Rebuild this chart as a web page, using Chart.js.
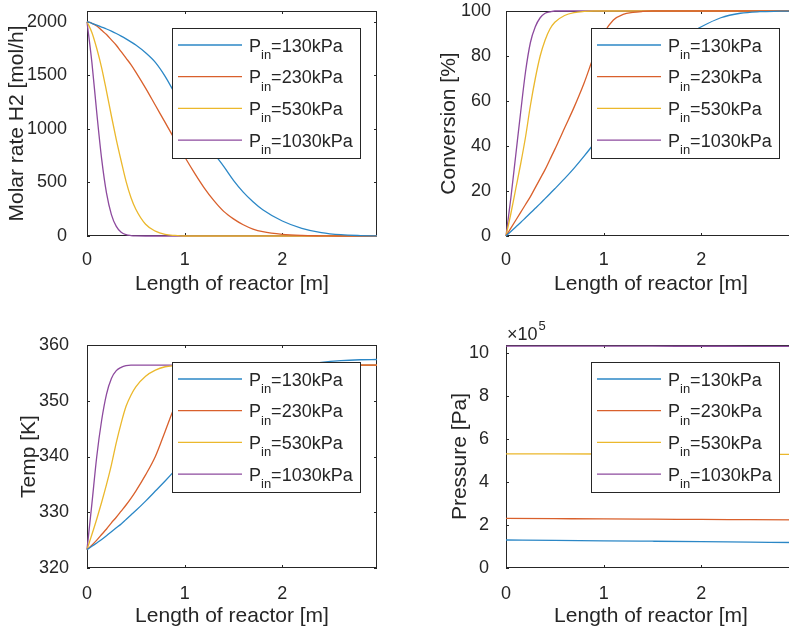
<!DOCTYPE html>
<html>
<head>
<meta charset="utf-8">
<title>Reactor profiles</title>
<script src="https://cdn.jsdelivr.net/npm/chart.js@4.4.1/dist/chart.umd.min.js"></script>
<style>
  html, body { margin: 0; padding: 0; background: #fff; overflow: hidden; }
  #fig { position: relative; width: 789px; height: 632px; overflow: hidden; }
  #fig canvas { position: absolute; }
</style>
</head>
<body>
<div id="fig">
  <canvas id="cMolar" width="395" height="316" style="left:0;top:0"></canvas>
  <canvas id="cConv" width="410" height="316" style="left:395px;top:0"></canvas>
  <canvas id="cTemp" width="395" height="316" style="left:0;top:316px"></canvas>
  <canvas id="cPres" width="410" height="316" style="left:395px;top:316px"></canvas>
</div>
<script>
// --- data ---
const inletKPa = [130, 230, 530, 1030];
const seriesColors = ['#2b87c6', '#d9602c', '#ebb82c', '#8d4a9e'];

// tick values
const lengthTicks = [0, 1, 2];
const molarTicks = [0, 500, 1000, 1500, 2000];
const convTicks = [0, 20, 40, 60, 80, 100];
const tempTicks = [320, 330, 340, 350, 360];
const presTicks = [0, 200000, 400000, 600000, 800000, 1000000];

// reactor length [m] used by molar rate / conversion / temperature
const lengthM = [0, 0.05, 0.1, 0.15, 0.2, 0.25, 0.3, 0.35, 0.4, 0.45, 0.5, 0.6, 0.7, 0.8, 0.9,
                 1.0, 1.1, 1.2, 1.3, 1.4, 1.5, 1.6, 1.7, 1.8, 2.0, 2.2, 2.4, 2.6, 2.8, 2.97];

// molar rate H2 [mol/h]
const molar130  = [2000, 1985, 1968, 1950, 1932, 1912, 1890, 1866, 1840, 1812, 1782, 1710, 1620, 1490, 1330,
                   1170, 1030, 895, 770, 650, 520, 410, 320, 245, 140, 72, 32, 12, 4, 1];
const molar230  = [2000, 1985, 1960, 1920, 1880, 1830, 1780, 1720, 1660, 1600, 1530, 1380, 1220, 1060, 900,
                   740, 590, 450, 330, 230, 160, 105, 65, 40, 15, 5, 2, 0, 0, 0];
const molar530  = [2000, 1900, 1750, 1570, 1350, 1120, 900, 700, 510, 360, 250, 110, 45, 15, 5,
                   0, 0, 0, 0, 0, 0, 0, 0, 0, 0, 0, 0, 0, 0, 0];
const molar1030 = [2000, 1620, 1150, 720, 400, 200, 90, 35, 12, 4, 1, 0, 0, 0, 0,
                   0, 0, 0, 0, 0, 0, 0, 0, 0, 0, 0, 0, 0, 0, 0];

// conversion [%]
const conv130  = [0, 2, 4, 6, 8.1, 10.2, 12.3, 14.4, 16.6, 18.8, 21, 25.5, 30.3, 35.5, 41,
                  47, 53, 59, 64.5, 70, 75, 80, 84.5, 88, 93, 97, 99, 99.7, 99.9, 100];
const conv230  = [0, 3.5, 7, 10.5, 14, 17.5, 21.5, 25.5, 29.5, 34, 38.5, 48, 57.5, 68, 80,
                  90, 96, 98.5, 99.4, 99.8, 100, 100, 100, 100, 100, 100, 100, 100, 100, 100];
const conv530  = [0, 10, 21, 32, 44, 58, 70, 80, 87, 92, 95, 98, 99.3, 99.8, 100,
                  100, 100, 100, 100, 100, 100, 100, 100, 100, 100, 100, 100, 100, 100, 100];
const conv1030 = [0, 17, 36, 55, 73, 86, 93, 97, 99, 99.6, 100, 100, 100, 100, 100,
                  100, 100, 100, 100, 100, 100, 100, 100, 100, 100, 100, 100, 100, 100, 100];

// temperature [K]
const temp130  = [323.3, 323.9, 324.5, 325.1, 325.8, 326.5, 327.2, 327.9, 328.7, 329.5, 330.3, 332, 333.8, 335.6, 337.5,
                  339.5, 341.7, 344, 346.2, 348.3, 350.2, 351.8, 353, 354, 355.5, 356.4, 356.9, 357.2, 357.35, 357.4];
const temp230  = [323.3, 324.1, 325, 326, 327, 328.1, 329.1, 330.2, 331.3, 332.5, 333.8, 336.7, 340, 344.5, 349,
                  352.3, 354.5, 355.6, 356.1, 356.3, 356.4, 356.4, 356.4, 356.4, 356.4, 356.4, 356.4, 356.4, 356.4, 356.4];
const temp530  = [323.3, 326, 328.8, 331.8, 335, 338.5, 342.5, 346, 349, 351, 352.5, 354.4, 355.5, 356.1, 356.3,
                  356.4, 356.4, 356.4, 356.4, 356.4, 356.4, 356.4, 356.4, 356.4, 356.4, 356.4, 356.4, 356.4, 356.4, 356.4];
const temp1030 = [323.3, 331.5, 340, 346.5, 351.2, 354, 355.4, 356, 356.3, 356.4, 356.4, 356.4, 356.4, 356.4, 356.4,
                  356.4, 356.4, 356.4, 356.4, 356.4, 356.4, 356.4, 356.4, 356.4, 356.4, 356.4, 356.4, 356.4, 356.4, 356.4];

// pressure [Pa]
const presLengthM = [0, 0.5, 1, 1.5, 2, 2.5, 2.97];
const pres130  = [130000, 128200, 126300, 124300, 122300, 120200, 118300];
const pres230  = [230000, 228900, 227800, 226600, 225400, 224200, 223100];
const pres530  = [530000, 529500, 529000, 528500, 528000, 527500, 527000];
const pres1030 = [1030000, 1029800, 1029600, 1029400, 1029200, 1029000, 1028800];

const FONT = '"Liberation Sans", Arial, Helvetica, sans-serif';
const INK = '#262626';

// MATLAB-like box, inward ticks, legend with subscript, x10^n label
const matlabAxes = {
    id: 'matlabAxes',
    beforeDatasetsDraw(chart) {
        const { ctx, chartArea: a, scales } = chart;
        ctx.save();
        ctx.strokeStyle = INK;
        ctx.lineWidth = 1;
        ctx.strokeRect(a.left + 0.5, a.top + 0.5, a.right - a.left - 1, a.bottom - a.top - 1);
        ctx.beginPath();
        const tl = 3;
        scales.x.ticks.forEach(t => {
            const px = Math.round(scales.x.getPixelForValue(t.value)) + 0.5;
            ctx.moveTo(px, a.bottom); ctx.lineTo(px, a.bottom - tl);
            ctx.moveTo(px, a.top); ctx.lineTo(px, a.top + tl);
        });
        scales.y.ticks.forEach(t => {
            const py = Math.round(scales.y.getPixelForValue(t.value)) + 0.5;
            ctx.moveTo(a.left, py); ctx.lineTo(a.left + tl, py);
            ctx.moveTo(a.right, py); ctx.lineTo(a.right - tl, py);
        });
        ctx.stroke();
        ctx.restore();
    },
    afterDraw(chart, args, opts) {
        const { ctx, chartArea: a } = chart;
        ctx.save();
        // legend
        const x0 = Math.round(a.left + 85), y0 = Math.round(a.top + 17), w = 188, h = 130;
        ctx.fillStyle = '#fff';
        ctx.fillRect(x0, y0, w, h);
        ctx.strokeStyle = INK;
        ctx.lineWidth = 1;
        ctx.strokeRect(x0 + 0.5, y0 + 0.5, w, h);
        chart.data.datasets.forEach((ds, i) => {
            const cy = y0 + 17 + i * 31.7;
            ctx.strokeStyle = ds.borderColor;
            ctx.lineWidth = 1.3;
            ctx.beginPath();
            ctx.moveTo(x0 + 6, cy); ctx.lineTo(x0 + 70, cy);
            ctx.stroke();
            ctx.fillStyle = INK;
            ctx.textBaseline = 'alphabetic';
            ctx.textAlign = 'left';
            let tx = x0 + 77;
            ctx.font = '18px ' + FONT;
            ctx.fillText('P', tx, cy + 6.5);
            tx += ctx.measureText('P').width;
            ctx.font = '13px ' + FONT;
            ctx.fillText('in', tx, cy + 14);
            tx += ctx.measureText('in').width;
            ctx.font = '18px ' + FONT;
            ctx.fillText('=' + inletKPa[i] + 'kPa', tx, cy + 6.5);
        });
        // exponent label
        if (opts && opts.exponent) {
            ctx.fillStyle = INK;
            ctx.textBaseline = 'middle';
            ctx.textAlign = 'left';
            ctx.font = '18px ' + FONT;
            const ex = a.left + 1;
            ctx.fillText('\u00d710', ex, a.top - 10);
            const ew = ctx.measureText('\u00d710').width;
            ctx.font = '13px ' + FONT;
            ctx.fillText(String(opts.exponent), ex + ew + 1, a.top - 19);
        }
        ctx.restore();
    }
};

function makeChart(id, xs, ys, cfg) {
    const datasets = ys.map((arr, i) => ({
        label: 'Pin=' + inletKPa[i] + 'kPa',
        data: arr.map((v, j) => ({ x: xs[j], y: v })),
        borderColor: seriesColors[i],
        borderWidth: 1.3,
        pointRadius: 0,
        cubicInterpolationMode: 'monotone',
        clip: false
    }));
    return new Chart(document.getElementById(id), {
        type: 'line',
        data: { datasets },
        plugins: [matlabAxes],
        options: {
            responsive: false,
            animation: false,
            layout: { padding: { left: 0, top: cfg.padTop, right: cfg.padRight, bottom: 0 } },
            plugins: {
                legend: { display: false },
                tooltip: { enabled: false },
                matlabAxes: { exponent: cfg.exponent || 0 }
            },
            scales: {
                x: {
                    type: 'linear',
                    min: 0,
                    max: 2.97,
                    grid: { display: false },
                    border: { display: false },
                    afterBuildTicks: s => { s.ticks = lengthTicks.map(v => ({ value: v })); },
                    ticks: {
                        padding: cfg.xTickPad,
                        color: INK,
                        font: { family: FONT, size: 18 },
                        maxRotation: 0
                    },
                    title: {
                        display: true,
                        text: 'Length of reactor [m]',
                        color: INK,
                        font: { family: FONT, size: 21 },
                        padding: { top: 0, bottom: cfg.xTitlePad }
                    },
                    afterFit: s => {
                        s.height = cfg.xHeight;
                        s.paddingLeft = 0; s.paddingRight = 0;
                    }
                },
                y: {
                    type: 'linear',
                    min: cfg.yMin,
                    max: cfg.yMax,
                    grid: { display: false },
                    border: { display: false },
                    afterBuildTicks: s => { s.ticks = cfg.yTicks.map(v => ({ value: v })); },
                    ticks: {
                        padding: cfg.yTickPad,
                        color: INK,
                        font: { family: FONT, size: 18 },
                        callback: cfg.yFormat || (v => v)
                    },
                    title: {
                        display: true,
                        text: cfg.yTitle,
                        color: INK,
                        font: { family: FONT, size: 21 },
                        padding: { top: cfg.yTitlePad, bottom: 0 }
                    },
                    afterFit: s => {
                        s.width = cfg.yWidth;
                        s.paddingTop = 0; s.paddingBottom = 0;
                    }
                }
            }
        }
    });
}

makeChart('cMolar', lengthM, [molar130, molar230, molar530, molar1030], {
    padTop: 11, padRight: 18, yWidth: 87, xHeight: 80,
    yMin: 0, yMax: 2100, yTicks: molarTicks, yTitle: 'Molar rate H2 [mol/h]',
    yTitlePad: 5, xTitlePad: 19, xTickPad: 5, yTickPad: 12
});

makeChart('cConv', lengthM, [conv130, conv230, conv530, conv1030], {
    padTop: 11, padRight: 9, yWidth: 111, xHeight: 80,
    yMin: 0, yMax: 100, yTicks: convTicks, yTitle: 'Conversion [%]',
    yTitlePad: 42, xTitlePad: 19, xTickPad: 5, yTickPad: 7
});

makeChart('cTemp', lengthM, [temp130, temp230, temp530, temp1030], {
    padTop: 29, padRight: 18, yWidth: 87, xHeight: 64,
    yMin: 320, yMax: 360, yTicks: tempTicks, yTitle: 'Temp [K]',
    yTitlePad: 17, xTitlePad: 3, xTickPad: 7, yTickPad: 10
});

makeChart('cPres', presLengthM, [pres130, pres230, pres530, pres1030], {
    padTop: 29, padRight: 9, yWidth: 111, xHeight: 64,
    yMin: 0, yMax: 1035000, yTicks: presTicks, yTitle: 'Pressure [Pa]',
    yTitlePad: 53, xTitlePad: 3, xTickPad: 7, yTickPad: 9,
    yFormat: v => String(Math.round(v / 1e5)), exponent: 5
});
</script>
</body>
</html>
